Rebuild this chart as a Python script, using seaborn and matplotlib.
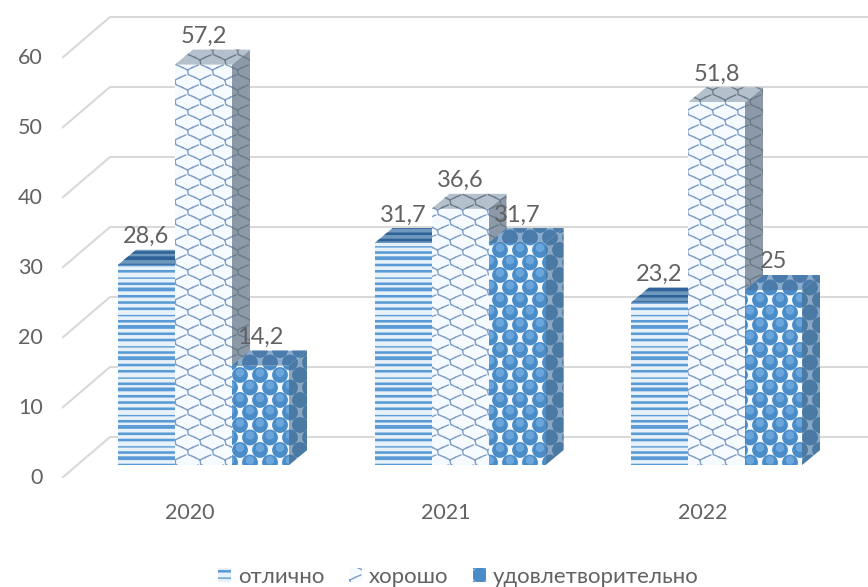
import matplotlib
matplotlib.use('Agg')
import numpy as np
import pandas as pd
import seaborn as sns
from matplotlib import hatch as mhatch
from matplotlib import pyplot as plt
from matplotlib.patches import Rectangle
from matplotlib.path import Path
from matplotlib.transforms import ScaledTranslation

years = ['2020', '2021', '2022']
grades = ['отлично', 'хорошо', 'удовлетворительно']
otlichno = [28.6, 31.7, 23.2]
horosho = [57.2, 36.6, 51.8]
udovl = [14.2, 31.7, 25]
y_ticks = [0, 10, 20, 30, 40, 50, 60]

W, H = 868, 587
PX_X = 256.5      # pixels per category
PX_Y = 7.0        # pixels per unit
X0_PX = 203.5
Y0_PX = 465
LEFT_PX = 62
BOTTOM_PX = 478
GREY = '#626262'


# the office style pattern fills, one tile is 100x100 px at dpi 100
def segments_to(vertices, codes, segs):
    for i, (a, b) in enumerate(segs):
        vertices[2 * i] = a
        vertices[2 * i + 1] = b
        codes[2 * i] = Path.MOVETO
        codes[2 * i + 1] = Path.LINETO


def stripe_segs():
    segs = []
    for k in range(16):
        y = (k + 0.5) / 16
        segs.append(((0, y), (1, y)))
        if k % 5 != 3:
            segs.append(((0, y + 0.012), (1, y + 0.012)))
        if k % 5 == 1:
            segs.append(((0, y + 0.024), (1, y + 0.024)))
    return segs


def scale_segs():
    w, h = 0.25, 0.1
    segs = []
    for j in range(-1, 12):
        for i in range(-1, 6):
            cx = i * w + (j % 2) * w / 2
            cy = j * h
            segs.append(((cx, cy), (cx + 0.008, cy - 0.45 * h)))
            for side in (-1, 1):
                mid = (cx + side * 0.2 * w, cy + 0.25 * h)
                tip = (cx + side * 0.43 * w, cy + 0.5 * h)
                segs.append(((cx, cy), mid))
                segs.append((mid, tip))
    return segs


class StripeHatch(mhatch.HatchPatternBase):
    def __init__(self, hatch, density):
        self.segs = stripe_segs()
        self.num_vertices = 2 * len(self.segs) if '-' in hatch else 0

    def set_vertices_and_codes(self, vertices, codes):
        segments_to(vertices, codes, self.segs)


class ScaleHatch(mhatch.HatchPatternBase):
    def __init__(self, hatch, density):
        self.segs = scale_segs()
        self.num_vertices = 2 * len(self.segs) if 'x' in hatch else 0

    def set_vertices_and_codes(self, vertices, codes):
        segments_to(vertices, codes, self.segs)


class BallHatch(mhatch.HatchPatternBase):
    marker = 'O'
    radius = 0.072
    shift = 0.0

    def __init__(self, hatch, density):
        self.circle = Path.unit_circle()
        self.centers = []
        for j in range(-1, 10):
            for i in range(-1, 7):
                self.centers.append((i * 0.2 + (j % 2) * 0.1, j / 8 + self.shift))
        self.num_vertices = len(self.centers) * len(self.circle.vertices) if self.marker in hatch else 0

    def set_vertices_and_codes(self, vertices, codes):
        n = len(self.circle.vertices)
        for k, c in enumerate(self.centers):
            vertices[k * n:(k + 1) * n] = self.circle.vertices * self.radius + c
            codes[k * n:(k + 1) * n] = self.circle.codes


class GlossHatch(BallHatch):
    # lighter spot on top of each ball
    marker = 'o'
    radius = 0.035
    shift = 0.022


mhatch._hatch_types = [StripeHatch, ScaleHatch, BallHatch, GlossHatch]

sns.set_style('white')
plt.rcParams['font.family'] = ['Lato', 'DejaVu Sans']
plt.rcParams['hatch.linewidth'] = 1.0

df = pd.DataFrame({
    'year': years * 3,
    'grade': np.repeat(grades, 3),
    'value': otlichno + horosho + udovl,
})

fig = plt.figure(figsize=(W / 100, H / 100), dpi=100)
ax = fig.add_axes([LEFT_PX / W, 1 - BOTTOM_PX / H, 1 - LEFT_PX / W, BOTTOM_PX / H])

sns.barplot(data=df, x='year', y='value', hue='grade', hue_order=grades, order=years,
            palette=['#e6f1fa', '#f5faff', '#f4f9fd'], width=171 / PX_X, gap=0,
            saturation=1, errorbar=None, ax=ax)

ax.set_xlim((LEFT_PX - X0_PX) / PX_X, (W - X0_PX) / PX_X)
ax.set_ylim((Y0_PX - BOTTOM_PX) / PX_Y, Y0_PX / PX_Y)
ax.set_xlabel('')
ax.set_ylabel('')
ax.set_yticks(y_ticks)
sns.despine(ax=ax, left=True, bottom=True)
ax.tick_params(axis='both', length=0, labelsize=15.5, labelcolor=GREY)
ax.tick_params(axis='y', pad=14)
ax.tick_params(axis='x', pad=18)

# tick labels sit lower/left because of the 3d floor
for lab in ax.get_yticklabels():
    lab.set_transform(lab.get_transform() + ScaledTranslation(0, -11 / 100, fig.dpi_scale_trans))
for lab in ax.get_xticklabels():
    lab.set_transform(lab.get_transform() + ScaledTranslation(-14 / 100, 0, fig.dpi_scale_trans))

# walls: diagonal from the axis then flat line on the back wall
dx_grid = 48 / PX_X
dy_grid = 41 / PX_Y
x_left = ax.get_xlim()[0]
x_right = ax.get_xlim()[1]
drop = (BOTTOM_PX - Y0_PX) / PX_Y
for t in y_ticks:
    ax.plot([x_left, x_left + dx_grid, x_right],
            [t - drop, t - drop + dy_grid, t - drop + dy_grid],
            color='#d9d9d9', lw=1.5, zorder=1, solid_capstyle='butt')

# depth of the bars
dx = 18 / PX_X
dy = 15 / PX_Y

hatches = ['-', 'x', 'O']
front_edge = ['#5b9bd5', '#7f9dc6', '#4a8cc8']
side_face = ['#9db7d2', '#8b99a8', '#8aa8c4']
side_edge = ['#3f709f', '#6d7a87', '#4a79a4']
top_face = ['#6f98bf', '#b4c0cc', '#8aadce']
top_edge = ['#2f6398', '#6d7c8a', '#4a7bab']

for i, cont in enumerate(ax.containers):
    for j, bar in enumerate(cont):
        x0 = bar.get_x()
        x1 = x0 + bar.get_width()
        top = bar.get_height()
        z = 2 + j * 10 + i * 2
        bar.set_hatch(hatches[i])
        bar.set_edgecolor(front_edge[i])
        bar.set_linewidth(0)
        bar.set_zorder(z + 1)
        if hatches[i] == 'O':
            ax.add_patch(Rectangle((x0, 0), x1 - x0, top, facecolor='none', edgecolor='#6aa6dc',
                                   hatch='o', lw=0, zorder=z + 1.5))
        ax.fill([x1, x1 + dx, x1 + dx, x1], [0, dy, top + dy, top],
                facecolor=side_face[i], edgecolor=side_edge[i], hatch=hatches[i], lw=0, zorder=z)
        ax.fill([x0, x1, x1 + dx, x0 + dx], [top, top, top + dy, top + dy],
                facecolor=top_face[i], edgecolor=top_edge[i], hatch=hatches[i], lw=0, zorder=z)
        ax.annotate(f'{top:g}'.replace('.', ','), xy=((x0 + x1) / 2, top), xytext=(0, 28),
                    textcoords='offset pixels', ha='center', va='center',
                    fontsize=17, color=GREY, zorder=100)

ax.get_legend().remove()
leg = ax.legend(handles=list(ax.containers), labels=grades, ncol=3, frameon=False,
                loc='center', bbox_to_anchor=((458 - LEFT_PX) / (W - LEFT_PX), (BOTTOM_PX - 577) / BOTTOM_PX),
                fontsize=16, labelcolor=GREY, handlelength=0.6, handleheight=0.6,
                handletextpad=0.3, columnspacing=1.1)

plt.savefig('out.png', dpi=100)
